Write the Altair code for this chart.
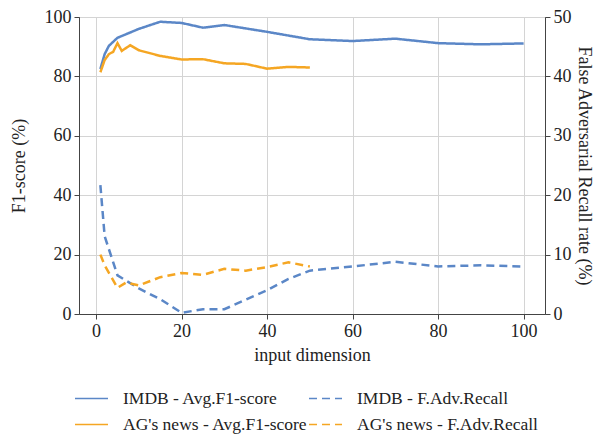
import altair as alt
import pandas as pd

BLUE = "#5b87c7"
ORANGE = "#f5a623"

series_names = [
    "IMDB - Avg.F1-score",
    "IMDB - F.Adv.Recall",
    "AG's news - Avg.F1-score",
    "AG's news - F.Adv.Recall",
]

imdb_f1_x = [1, 2, 3, 5, 10, 15, 20, 25, 30, 40, 50, 60, 70, 80, 90, 100]
imdb_f1_y = [82.5, 87.5, 90.3, 93.0, 96.0, 98.4, 98.0, 96.4, 97.3, 95.0, 92.5, 91.9, 92.7, 91.2, 90.8, 91.1]

ag_f1_x = [1, 2, 3, 4, 5, 6, 8, 10, 15, 20, 25, 30, 35, 40, 45, 50]
ag_f1_y = [81.4, 85.5, 87.5, 88.3, 91.2, 88.6, 90.5, 88.8, 86.9, 85.7, 85.8, 84.4, 84.2, 82.6, 83.2, 83.0]

imdb_rec_x = [1, 2, 5, 10, 15, 20, 25, 30, 40, 45, 50, 60, 70, 80, 90, 100]
imdb_rec_y = [21.7, 13.1, 6.5, 4.3, 2.5, 0.2, 0.8, 0.8, 4.0, 5.9, 7.3, 8.0, 8.8, 8.0, 8.2, 8.0]

ag_rec_x = [1, 2, 5, 7, 10, 15, 20, 25, 30, 35, 40, 45, 50]
ag_rec_y = [10.0, 8.2, 4.4, 5.3, 4.8, 6.2, 6.9, 6.6, 7.6, 7.3, 7.9, 8.7, 8.0]

f1_df = pd.concat([
    pd.DataFrame({"series": series_names[0], "x": imdb_f1_x, "y": imdb_f1_y}),
    pd.DataFrame({"series": series_names[2], "x": ag_f1_x, "y": ag_f1_y}),
])
rec_df = pd.concat([
    pd.DataFrame({"series": series_names[1], "x": imdb_rec_x, "y": imdb_rec_y}),
    pd.DataFrame({"series": series_names[3], "x": ag_rec_x, "y": ag_rec_y}),
])

FONT = "Liberation Serif"

legend = alt.Legend(
    title=None,
    orient="none",
    legendX=-5,
    legendY=364,
    columns=2,
    direction="horizontal",
    symbolType="stroke",
    symbolSize=1089,
    symbolStrokeWidth=1.5,
    labelFont=FONT,
    labelFontSize=17.5,
    labelColor="#222222",
    labelOffset=14,
    labelLimit=400,
    columnPadding=-2,
    rowPadding=-7,
)

color = alt.Color(
    "series:N",
    scale=alt.Scale(domain=series_names, range=[BLUE, BLUE, ORANGE, ORANGE]),
    legend=legend,
)
dash = alt.StrokeDash(
    "series:N",
    scale=alt.Scale(domain=series_names, range=[[1, 0], [8, 5], [1, 0], [8, 5]]),
    legend=legend,
)

x_enc = alt.X(
    "x:Q",
    scale=alt.Scale(domain=[-4, 105], nice=False, zero=False),
    axis=alt.Axis(values=[0, 20, 40, 60, 80, 100], title="input dimension", grid=True, titlePadding=6),
)

left = alt.Chart(f1_df).mark_line(strokeWidth=2.5).encode(
    x=x_enc,
    y=alt.Y(
        "y:Q",
        scale=alt.Scale(domain=[0, 100], nice=False),
        axis=alt.Axis(values=[0, 20, 40, 60, 80, 100], title="F1-score (%)", grid=True,
                      orient="left", titlePadding=16),
    ),
    color=color,
    strokeDash=dash,
    order=alt.Order("x:Q"),
)

right = alt.Chart(rec_df).mark_line(strokeWidth=2.5).encode(
    x=x_enc,
    y=alt.Y(
        "y:Q",
        scale=alt.Scale(domain=[0, 50], nice=False),
        axis=alt.Axis(values=[0, 10, 20, 30, 40, 50], title="False Adversarial Recall rate (%)",
                      grid=False, orient="right", titlePadding=3),
    ),
    color=color,
    strokeDash=dash,
    order=alt.Order("x:Q"),
)

chart = (
    alt.layer(left, right)
    .resolve_scale(y="independent")
    .properties(width=466, height=297)
    .configure(
        padding={"left": 71, "top": 9, "right": 51, "bottom": 121},
        autosize=alt.AutoSizeParams(type="none"),
    )
    .configure_view(stroke="#444444", strokeWidth=1)
    .configure_axis(
        labelFont=FONT,
        labelFontSize=18,
        labelColor="#222222",
        titleFont=FONT,
        titleFontSize=18,
        titleFontWeight="normal",
        titleColor="#222222",
        domainColor="#444444",
        tickColor="#444444",
        gridColor="#d4d4d4",
        tickSize=5,
        labelPadding=3,
    )
)

chart.save("out.html", embed_options={"renderer": "svg", "actions": False})
